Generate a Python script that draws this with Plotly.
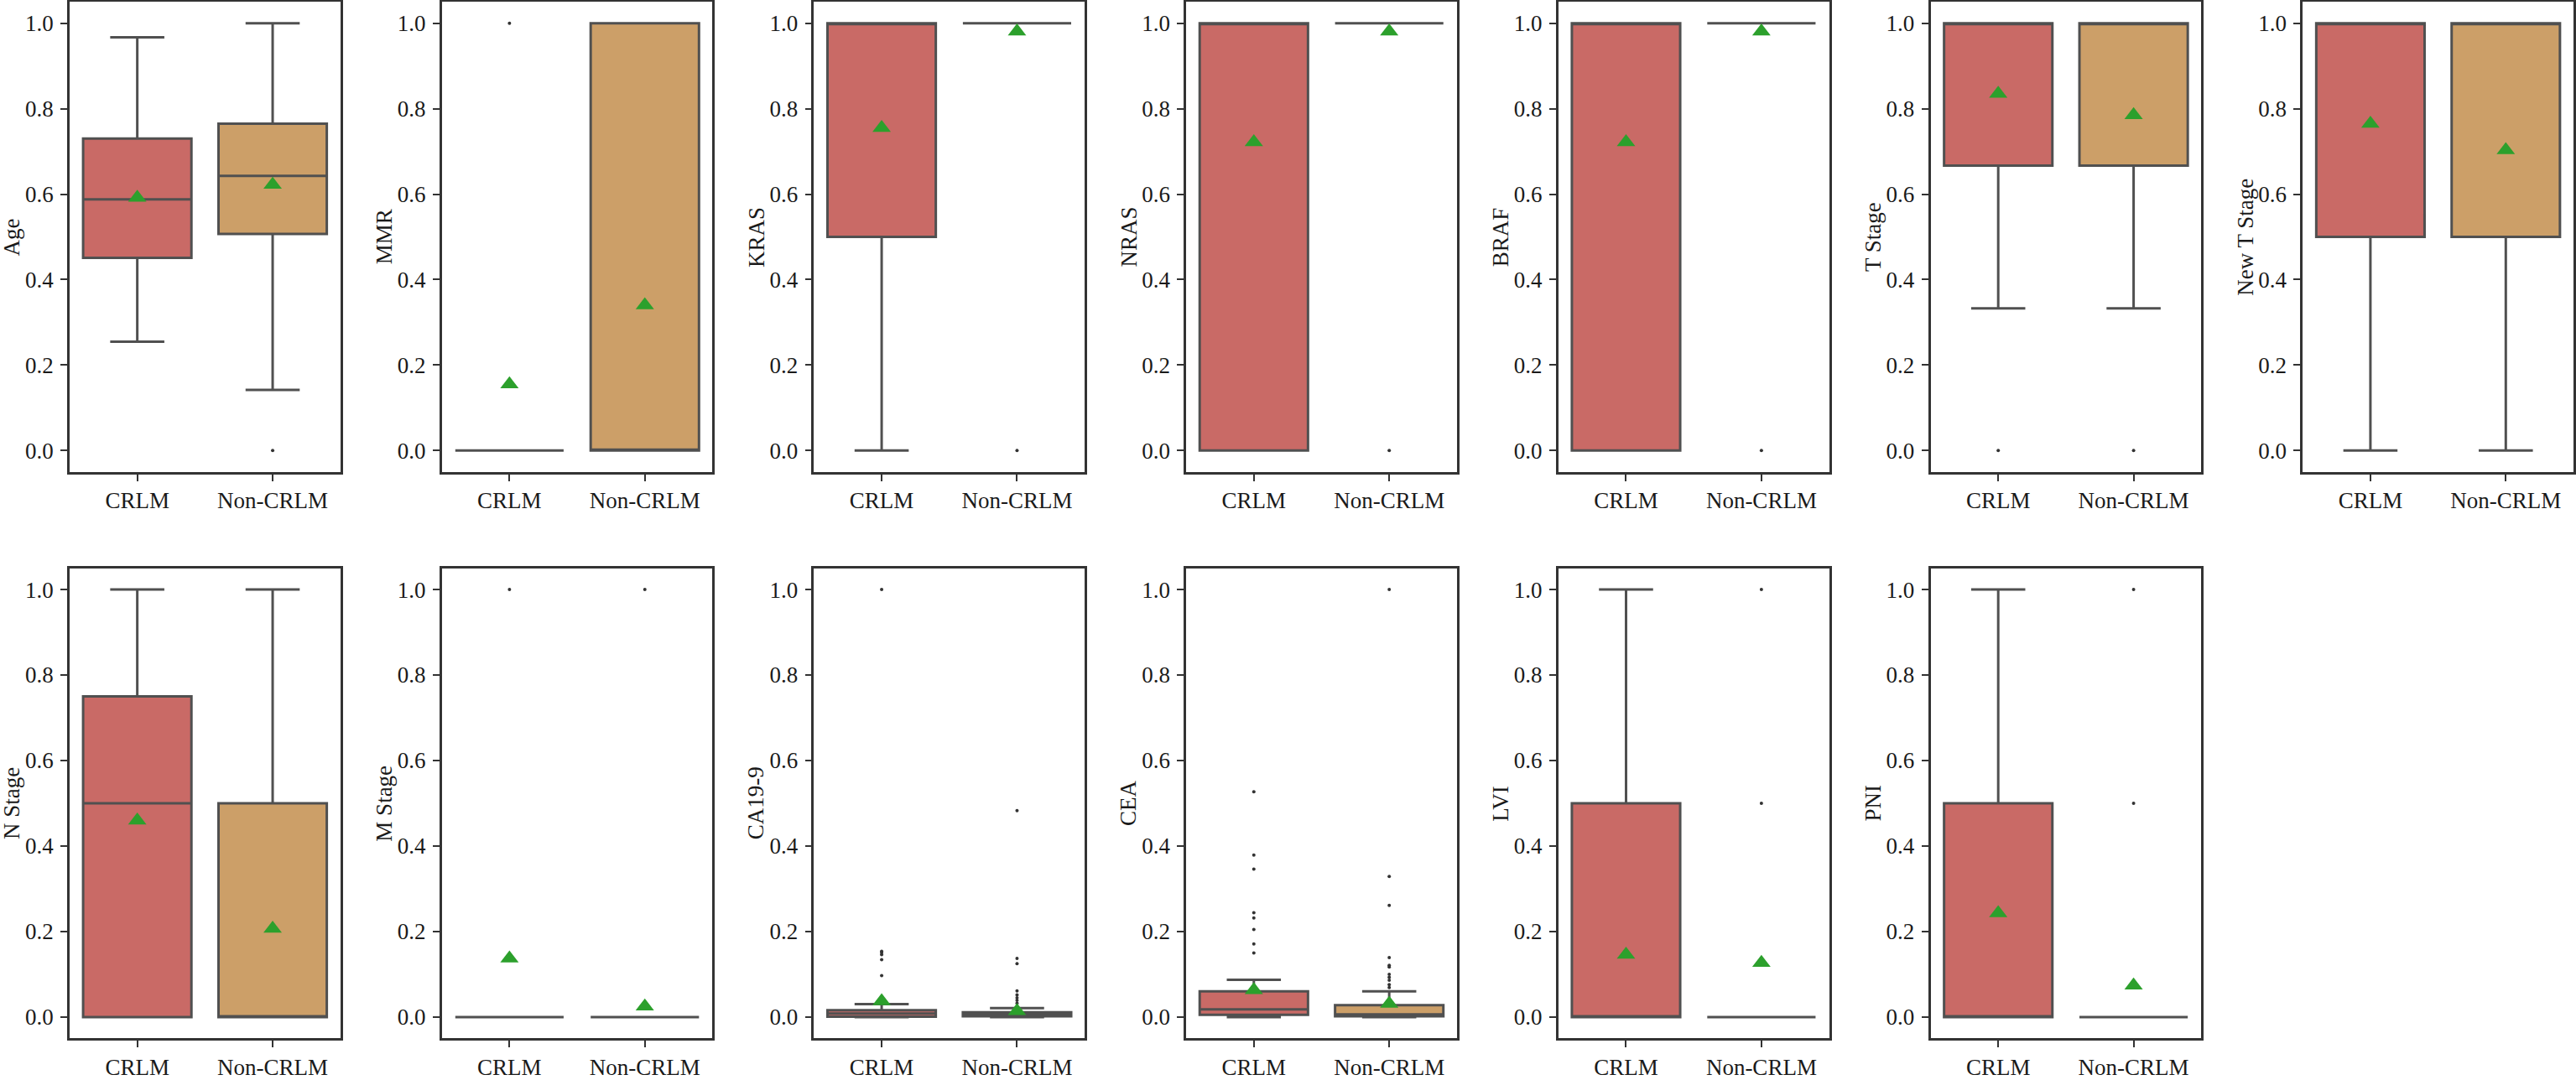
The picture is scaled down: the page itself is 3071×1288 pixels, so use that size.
import plotly.graph_objects as go

# ---------------- data ----------------
variables = ["Age", "MMR", "KRAS", "NRAS", "BRAF", "T Stage", "New T Stage",
             "N Stage", "M Stage", "CA19-9", "CEA", "LVI", "PNI"]
groups = ["CRLM", "Non-CRLM"]

# CRLM
crlm_low  = [0.255, 0, 0,   0, 0, 0.333, 0,   0,    0, 0,     0,     0,   0]
crlm_q1   = [0.451, 0, 0.5, 0, 0, 0.667, 0.5, 0,    0, 0.001, 0.005, 0,   0]
crlm_med  = [0.588, 0, 1,   1, 1, 1,     1,   0.5,  0, 0.008, 0.018, 0,   0]
crlm_q3   = [0.730, 0, 1,   1, 1, 1,     1,   0.75, 0, 0.016, 0.060, 0.5, 0.5]
crlm_high = [0.967, 0, 1,   1, 1, 1,     1,   1,    0, 0.030, 0.087, 1,   1]
crlm_mean = [0.592, 0.155, 0.755, 0.722, 0.722, 0.835, 0.765,
             0.460, 0.137, 0.037, 0.063, 0.146, 0.243]
crlm_out = [
    [], [1.0], [], [], [], [0.0], [], [], [1.0],
    [0.097, 0.134, 0.146, 0.151, 0.154, 1.0],
    [0.150, 0.171, 0.205, 0.232, 0.244, 0.346, 0.379, 0.527],
    [], [],
]

# Non-CRLM
non_low  = [0.142, 0, 1, 1, 1, 0.333, 0,   0, 0, 0,     0,     0, 0]
non_q1   = [0.507, 0, 1, 1, 1, 0.667, 0.5, 0, 0, 0.002, 0.002, 0, 0]
non_med  = [0.643, 0, 1, 1, 1, 1,     1,   0, 0, 0.006, 0.006, 0, 0]
non_q3   = [0.765, 1, 1, 1, 1, 1,     1,   0.5, 0, 0.011, 0.028, 0, 0]
non_high = [1.0,   1, 1, 1, 1, 1,     1,   1, 0, 0.021, 0.060, 0, 0]
non_mean = [0.622, 0.340, 0.981, 0.981, 0.981, 0.785, 0.703,
            0.207, 0.025, 0.014, 0.031, 0.127, 0.074]
non_out = [
    [0.0], [], [0.0], [0.0], [0.0], [0.0], [], [], [1.0],
    [0.032, 0.039, 0.045, 0.052, 0.061, 0.125, 0.137, 0.483],
    [0.069, 0.076, 0.086, 0.093, 0.100, 0.117, 0.121, 0.139, 0.261, 0.329, 1.0],
    [0.5, 1.0], [0.5, 1.0],
]

yticks = [0.0, 0.2, 0.4, 0.6, 0.8, 1.0]

# ---------------- look ----------------
W, H = 3071, 1288
FONT = "Liberation Serif, Times New Roman, serif"
LINE = "#505050"
FRAME = "#333333"
FILLS = ["#C96A66", "#CC9F68"]
MEAN_C = "#2CA02C"

# panel geometry in pixels (2 rows x 7 cols, last slot empty)
panel_left0, panel_pitch, panel_w = 83, 444, 323
rows_px = [(1.25, 568), (684, 1251)]

fig = go.Figure()
layout = dict(
    width=W, height=H,
    margin=dict(l=0, r=0, t=0, b=0),
    paper_bgcolor="white", plot_bgcolor="white",
    showlegend=False,
    font=dict(family=FONT, size=27, color="#1a1a1a"),
    annotations=[],
)

stats = [
    (crlm_low, crlm_q1, crlm_med, crlm_q3, crlm_high, crlm_mean, crlm_out),
    (non_low, non_q1, non_med, non_q3, non_high, non_mean, non_out),
]

for i, name in enumerate(variables):
    row, col = divmod(i, 7)
    n = i + 1
    xa, ya = f"x{n}", f"y{n}"
    left = panel_left0 + col * panel_pitch
    top, bottom = rows_px[row]
    xdom = [left / W, (left + panel_w) / W]
    ydom = [1 - bottom / H, 1 - top / H]

    for g, (lo, q1, med, q3, hi, mean, out) in enumerate(stats):
        fig.add_trace(go.Box(
            x=[groups[g]], q1=[q1[i]], median=[med[i]], q3=[q3[i]],
            lowerfence=[lo[i]], upperfence=[hi[i]],
            width=0.8, whiskerwidth=0.5, boxpoints=False,
            fillcolor=FILLS[g], line=dict(color=LINE, width=3),
            xaxis=xa, yaxis=ya, hoverinfo="skip",
        ))
        if out[i]:
            fig.add_trace(go.Scatter(
                x=[groups[g]] * len(out[i]), y=out[i], mode="markers",
                marker=dict(color="#333333", size=4),
                xaxis=xa, yaxis=ya, hoverinfo="skip",
            ))
        fig.add_trace(go.Scatter(
            x=[groups[g]], y=[mean[i]], mode="markers",
            marker=dict(symbol="triangle-up", color=MEAN_C, size=19,
                        line=dict(width=0)),
            xaxis=xa, yaxis=ya, hoverinfo="skip",
        ))

    axis_common = dict(
        showline=True, mirror=True, linecolor=FRAME, linewidth=2.6,
        ticks="outside", ticklen=8, tickwidth=2.2, tickcolor=FRAME,
        showgrid=False, zeroline=False,
    )
    key = "" if n == 1 else str(n)
    layout["xaxis" + key] = dict(
        domain=xdom, anchor=ya, type="category",
        categoryorder="array", categoryarray=groups,
        range=[-0.5, 1.5], **axis_common,
    )
    layout["yaxis" + key] = dict(
        domain=ydom, anchor=xa, range=[-0.05, 1.05],
        tickvals=yticks, tickformat=".1f", ticklabelstandoff=3,
        **axis_common,
    )
    layout["annotations"].append(dict(
        text=name, textangle=-90, showarrow=False,
        xref="paper", yref="paper",
        x=left / W, xshift=-69, xanchor="center",
        y=(ydom[0] + ydom[1]) / 2, yanchor="middle",
        font=dict(family=FONT, size=27, color="#1a1a1a"),
    ))

fig.update_layout(**layout)

# the default 8px body margin would push the figure off the window
fig.write_html(
    "out.html",
    config={"displayModeBar": False},
    post_script="document.body.style.margin='0';"
                "document.documentElement.style.overflow='hidden';",
)
